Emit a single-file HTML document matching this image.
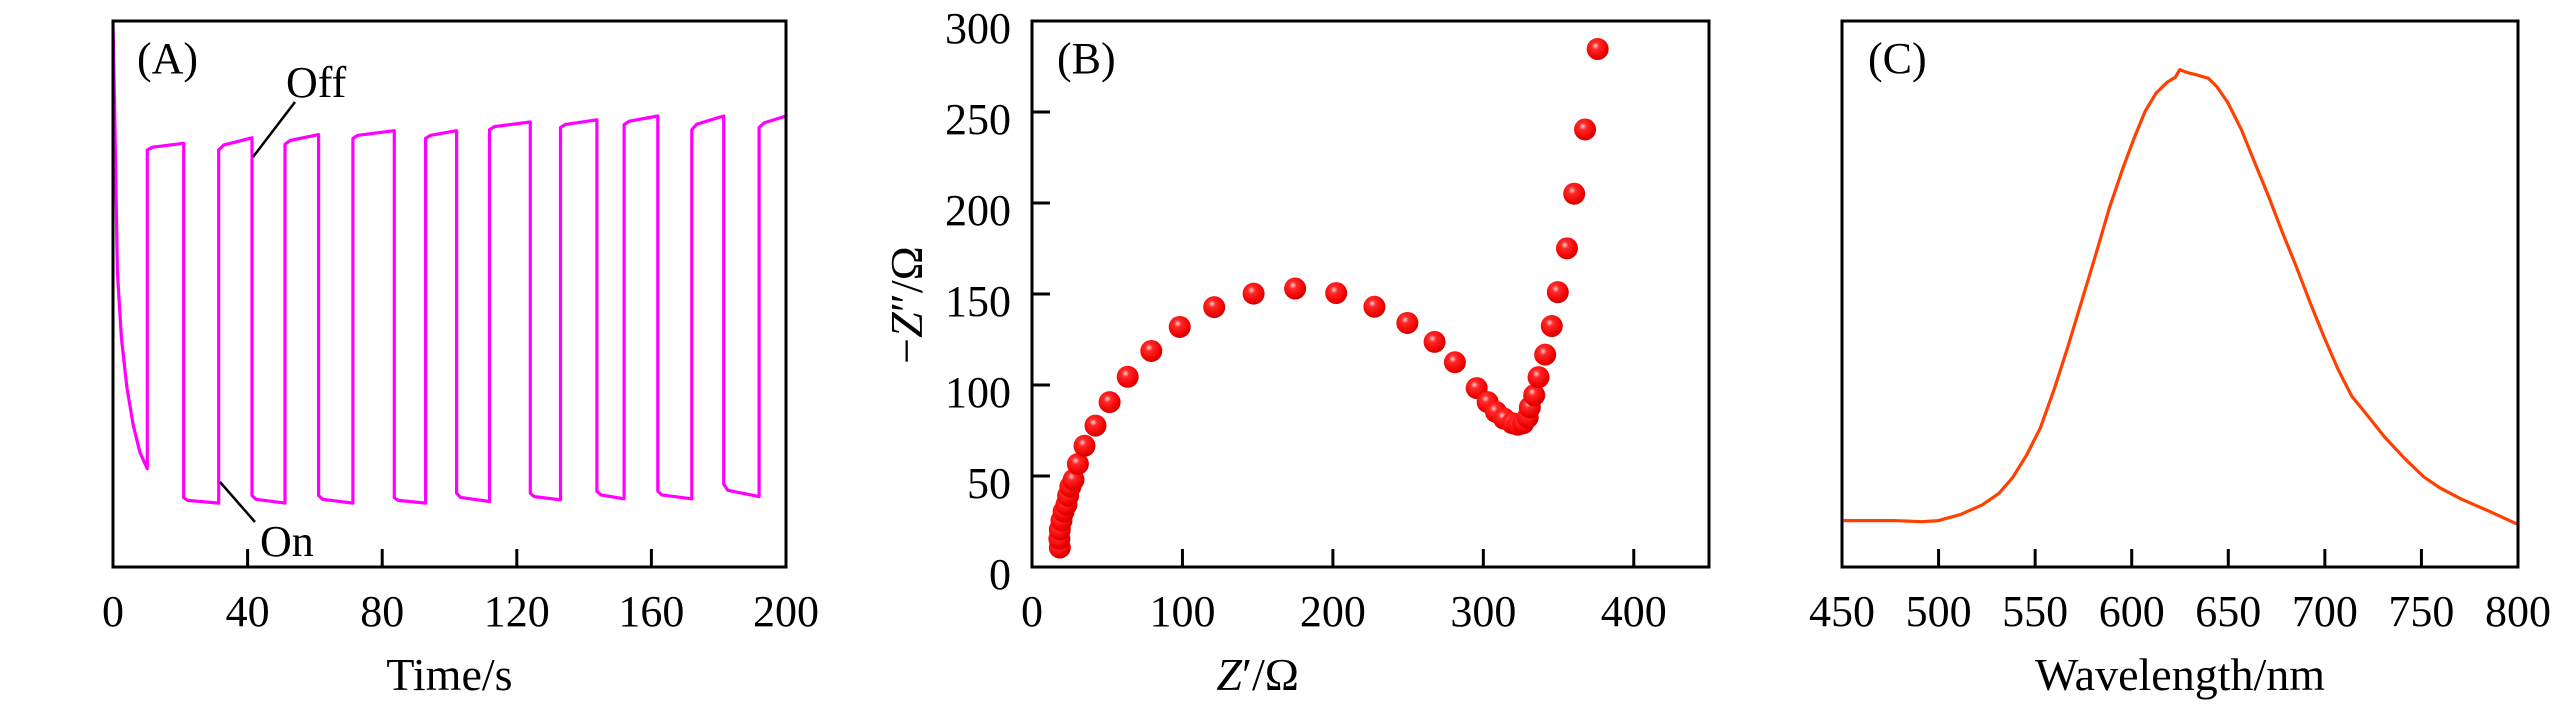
<!DOCTYPE html>
<html><head><meta charset="utf-8"><style>
html,body{margin:0;padding:0;background:#fff;}
svg{display:block;font-family:"Liberation Serif",serif;}
</style></head><body>
<svg id="fig" width="2567" height="709" viewBox="0 0 2567 709" xmlns="http://www.w3.org/2000/svg">
<defs>
<radialGradient id="ball" cx="0.4" cy="0.35" r="0.65">
<stop offset="0" stop-color="#ffd0d0"/><stop offset="0.25" stop-color="#ff2a2a"/><stop offset="0.8" stop-color="#f00000"/><stop offset="1" stop-color="#d00000"/>
</radialGradient>
</defs>
</svg>
<script>
// ---- Panel A data (photocurrent, arbitrary units 0..1) ----
const aTicks = [0,40,80,120,160,200];
const aDecayT = [0,0.6,1.3,2.5,4.1,6,8,10.2];
const aDecayV = [1.0,0.8,0.54,0.42,0.33,0.26,0.21,0.18];
const aOnT  = [21.0,41.3,61.1,83.6,102.1,124.0,143.8,161.9,181.5];
const aOffT = [10.2,31.4,51.1,71.3,92.9,111.9,133.0,151.9,172.0,192.0];
const aHighStart = [0.764,0.764,0.774,0.785,0.785,0.801,0.805,0.810,0.801,0.805];
const aHighEnd   = [0.776,0.786,0.792,0.799,0.799,0.815,0.819,0.826,0.826,0.826];
const aLowStart = [0.127,0.131,0.131,0.127,0.135,0.135,0.139,0.139,0.152];
const aLowEnd   = [0.117,0.117,0.117,0.117,0.120,0.123,0.125,0.125,0.129];
// ---- Panel B data (Nyquist) ----
const bZre = [18.5,18.2,18.5,19.6,21,22.9,24,25.5,27.6,30.5,34.9,42.2,51.6,63.6,79.3,98.2,121.1,147.3,174.9,202.2,227.6,249.5,267.6,281.1,295.6,302.9,308.4,313.8,319.3,322.9,326.5,329.5,330.9,333.8,336.7,341.1,345.5,349.5,355.6,360.4,367.6,376];
const bZim = [10.7,15.6,20.6,25.6,30.5,34.3,39.2,44.2,47.9,56.6,66.6,77.7,90.6,104.5,118.7,131.9,142.8,150.2,153,150.5,143,134.1,123.7,112.5,98.3,90.6,85.2,81.5,79,78.2,79,82.2,87.7,94.4,104.3,116.7,132.4,151,175.1,205.1,240.4,284.6];
const bXTicks = [0,100,200,300,400];
const bYTicks = [0,50,100,150,200,250,300];
// ---- Panel C data (PL spectrum) ----
const cWl = [450.9,477.1,491.4,499.9,511.3,522.7,531.3,538.4,545.6,552.7,559.8,567,574.1,581.2,588.3,595.5,601.2,606.9,612.6,618.3,622.6,624.9,628.3,634,639.7,644,649.7,656.8,663.9,671.1,678.2,685.3,692.5,699.6,706.7,713.9,722.4,731,741,750.9,759.5,770.9,785.2,799.4];
const cInt = [8.5,8.5,8.3,8.5,9.6,11.4,13.5,16.4,20.5,25.5,32.5,40.4,48.7,57,65.6,73.1,78.5,83.4,86.8,88.8,89.7,91.1,90.6,90.1,89.5,88,85.1,80.1,73.9,67.7,61.1,54.9,48.3,42.1,36.3,31.3,27.6,23.8,20,16.6,14.5,12.4,10.2,7.9];
const cTicks = [450,500,550,600,650,700,750,800];

const NS="http://www.w3.org/2000/svg";
const svg=document.getElementById('fig');
function mk(tag,attrs,parent){const e=document.createElementNS(NS,tag);for(const k in attrs)e.setAttribute(k,attrs[k]);(parent||svg).appendChild(e);return e;}
function txt(s,x,y,size,anchor,parent){const t=mk('text',{x:x,y:y,'font-size':size,'text-anchor':anchor||'middle',fill:'#000'},parent);t.textContent=s;return t;}

const TOP=21,BOT=567;
// ===== Panel A =====
const gA=mk('g',{});


const aL=113,aR=786;
const ax=t=>aL+(t-0)/200*(aR-aL);
const ay=v=>BOT-v*(BOT-TOP);
let pts=[];
for(let i=0;i<aDecayT.length;i++)pts.push([aDecayT[i],aDecayV[i]]);
for(let i=0;i<aOffT.length;i++){
  const t0=aOffT[i];
  const t1=i<aOnT.length?aOnT[i]:200;
  pts.push([t0,aHighStart[i]]);
  pts.push([t0+1.5,aHighStart[i]+(aHighEnd[i]-aHighStart[i])*0.4]);
  pts.push([t1,aHighEnd[i]]);
  if(i<aOnT.length){
    const t2=aOffT[i+1];
    pts.push([t1,aLowStart[i]]);
    pts.push([t1+1.2,aLowStart[i]-(aLowStart[i]-aLowEnd[i])*0.5]);
    pts.push([t2,aLowEnd[i]]);
  }
}
const lineA=mk('path',{d:'M'+pts.map(p=>ax(p[0]).toFixed(1)+','+ay(p[1]).toFixed(1)).join('L'),fill:'none',stroke:'#ff00ff','stroke-width':3.2,'stroke-linejoin':'round'},gA);


const frA=mk('rect',{x:aL,y:TOP,width:aR-aL,height:BOT-TOP,fill:'none',stroke:'#000','stroke-width':3},gA);


aTicks.forEach(t=>{
  if(t>0&&t<200)mk('line',{x1:ax(t),x2:ax(t),y1:BOT,y2:BOT-18,stroke:'#000','stroke-width':3},gA);
  const l=txt(String(t),ax(t),626,44,'middle',gA);
  
  
});
const tA=txt('Time/s',ax(100),690,46,'middle',gA);


const pA=txt('(A)',137,73,44,'start',gA);


const offL=txt('Off',286,97,44,'start',gA);


mk('line',{x1:295,y1:102,x2:253,y2:157,stroke:'#000','stroke-width':2.5},gA);
const onL=txt('On',260,556,44,'start',gA);


mk('line',{x1:220,y1:482,x2:255,y2:522,stroke:'#000','stroke-width':2.5},gA);

// ===== Panel B =====
const gB=mk('g',{});


const bL=1032,bR=1709;
const bx=v=>bL+v/450*(bR-bL);
const by=v=>BOT-v/300*(BOT-TOP);
for(let i=0;i<bZre.length;i++){
  const c=mk('circle',{cx:bx(bZre[i]),cy:by(bZim[i]),r:11,fill:'url(#ball)'},gB);
  
  
}
const frB=mk('rect',{x:bL,y:TOP,width:bR-bL,height:BOT-TOP,fill:'none',stroke:'#000','stroke-width':3},gB);


bXTicks.forEach(v=>{
  if(v>0)mk('line',{x1:bx(v),x2:bx(v),y1:BOT,y2:BOT-18,stroke:'#000','stroke-width':3},gB);
  const l=txt(String(v),bx(v),626,44,'middle',gB);
  
  
});
bYTicks.forEach(v=>{
  if(v>0&&v<300)mk('line',{x1:bL,x2:bL+18,y1:by(v),y2:by(v),stroke:'#000','stroke-width':3},gB);
  const l=txt(String(v),1011,by(v)+22,44,'end',gB);
  
  
});
const xtB=mk('text',{x:bx(150),y:690,'font-size':46,'text-anchor':'middle'},gB);
xtB.innerHTML='<tspan font-style="italic">Z</tspan>′/Ω';


const ytB=mk('text',{x:0,y:0,'font-size':46,'text-anchor':'middle',transform:'translate(922,305) rotate(-90)'},gB);
ytB.innerHTML='−<tspan font-style="italic">Z</tspan>″/Ω';


const pB=txt('(B)',1057,73,44,'start',gB);



// ===== Panel C =====
const gC=mk('g',{});


const cL=1842,cR=2518;
const cx=w=>cL+(w-450)/350*(cR-cL);
const cy=v=>BOT-v/100*(BOT-TOP);
const lineC=mk('path',{d:'M'+cWl.map((w,i)=>cx(w).toFixed(1)+','+cy(cInt[i]).toFixed(1)).join('L'),fill:'none',stroke:'#ff4000','stroke-width':3.2,'stroke-linejoin':'round'},gC);


const frC=mk('rect',{x:cL,y:TOP,width:cR-cL,height:BOT-TOP,fill:'none',stroke:'#000','stroke-width':3},gC);


cTicks.forEach(w=>{
  if(w>450&&w<800)mk('line',{x1:cx(w),x2:cx(w),y1:BOT,y2:BOT-18,stroke:'#000','stroke-width':3},gC);
  const l=txt(String(w),cx(w),626,44,'middle',gC);
  
  
});
const tC=txt('Wavelength/nm',cx(625),690,46,'middle',gC);


const pC=txt('(C)',1868,73,44,'start',gC);


</script>
</body></html>
